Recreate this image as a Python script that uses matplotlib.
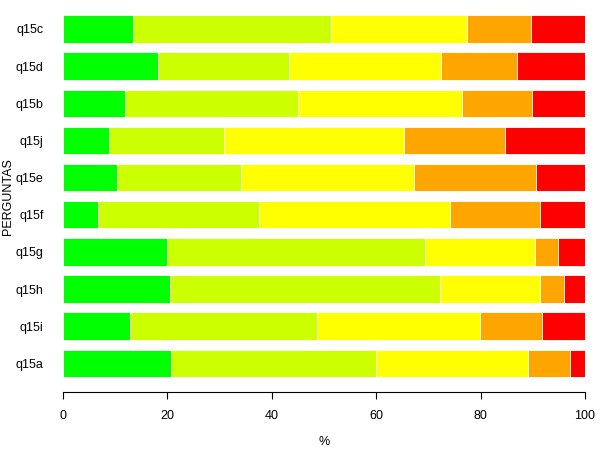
import numpy as np
import matplotlib
matplotlib.use('Agg')
import matplotlib.pyplot as plt

plt.rcParams['font.family'] = ['Liberation Sans', 'DejaVu Sans']

# perguntas, de baixo para cima
perguntas = ['q15a', 'q15i', 'q15h', 'q15g', 'q15f', 'q15e', 'q15j', 'q15b', 'q15d', 'q15c']

# percentagens por categoria
muito_bom = [20.7, 12.9, 20.5, 19.9, 6.7, 10.3, 8.8, 11.9, 18.2, 13.4]
bom = [39.3, 35.8, 51.8, 49.4, 30.8, 23.8, 22.1, 33.2, 25.1, 38.0]
razoavel = [29.0, 31.1, 19.0, 21.2, 36.6, 33.1, 34.5, 31.3, 29.2, 25.9]
mau = [8.2, 12.0, 4.7, 4.4, 17.3, 23.5, 19.3, 13.5, 14.5, 12.4]
muito_mau = [2.8, 8.2, 4.0, 5.1, 8.6, 9.3, 15.3, 10.1, 13.0, 10.3]

series = [muito_bom, bom, razoavel, mau, muito_mau]
cores = ['#00FF00', '#CCFF00', '#FFFF00', '#FFA500', '#FF0000']

fig = plt.figure(figsize=(6, 4.5), dpi=100)
ax = fig.add_axes([0.105, 0.1282, 0.87, 0.8385])

y = np.arange(len(perguntas))
left = np.zeros(len(perguntas))
for vals, cor in zip(series, cores):
    vals = np.array(vals)
    ax.barh(y, vals, left=left, height=0.74, color=cor, edgecolor='white', linewidth=0.6)
    left = left + vals

ax.set_xlim(0, 100)
ax.set_ylim(-0.78, 9.377)
ax.set_yticks(y)
ax.set_yticklabels(perguntas, fontsize=9)
ax.tick_params(axis='y', length=0, pad=14)
ax.set_xticks([0, 20, 40, 60, 80, 100])
ax.tick_params(axis='x', length=5, width=0.8, labelsize=9, pad=8)
for s in ['top', 'right', 'left']:
    ax.spines[s].set_visible(False)
ax.spines['bottom'].set_bounds(0, 100)
ax.spines['bottom'].set_linewidth(0.8)

ax.set_xlabel('%', fontsize=9, labelpad=10)
fig.text(0.014, 0.564, 'PERGUNTAS', rotation=90, fontsize=9, ha='center', va='center')

plt.savefig('out.png', dpi=100)
